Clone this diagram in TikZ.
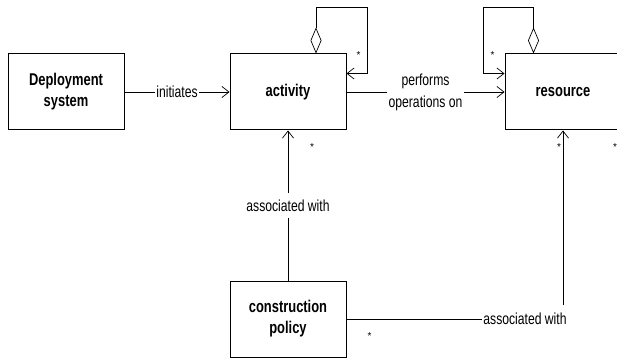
\documentclass[tikz,border=0pt]{standalone}
\usepackage{fontspec}
\setmainfont{Liberation Sans}
\newfontfamily\narrowfont[FakeStretch=0.76]{Liberation Sans}
\usetikzlibrary{arrows.meta, positioning}

\begin{document}
\begin{tikzpicture}[
    node distance=2cm,
    cls/.style={rectangle, minimum width=116pt, minimum height=76pt, text centered, align=center, draw=black, line width=1pt, font=\narrowfont\fontsize{17}{21}\selectfont\bfseries},
    lbl/.style={fill=white, inner xsep=1.5pt, inner ysep=6.5pt, align=center, font=\narrowfont\fontsize{16}{22}\selectfont},
    mult/.style={inner sep=0pt, font=\fontsize{10}{10}\selectfont},
    arrow/.style={-{Straight Barb[length=7pt, width=11pt]}, line width=0.7pt},
    aggr/.style={{Diamond[open, length=26pt, width=11pt]}-{Straight Barb[length=7pt, width=11pt]}, line width=0.7pt}
]
\useasboundingbox (0,0) rectangle (617pt,-358pt);

% Classes
\node[cls] (deploy) at (66pt,-92pt) {Deployment\\system};
\node[cls, right=105pt of deploy] (act) {activity};
\node[cls, right=158pt of act] (res) {resource};
\node[cls, below=150pt of act] (pol) {construction\\policy};

% Associations
\draw[arrow] (deploy) -- node[lbl] {initiates} (act);
\draw[arrow] (act) -- node[lbl] {performs\\operations on} (res);
\draw[arrow] (pol) -- node[lbl] {associated with} (act);
\draw[arrow] (pol.east) -| node[lbl, pos=0.5, xshift=-38pt, inner ysep=8pt] {associated with} (res.south);

% Aggregation loops
\draw[aggr] ([xshift=28pt]act.north) |- ([shift={(21pt,46pt)}]act.north east) |- ([yshift=-20pt]act.north east);
\draw[aggr] ([xshift=29pt]res.north west) |- ([shift={(-21pt,46pt)}]res.north west) |- ([yshift=-20pt]res.north west);

% Multiplicities
\node[mult] (m1) at ([shift={(12pt,-2pt)}]act.north east) {*};
\node[mult] (m2) at ([shift={(-12pt,-2pt)}]res.north west) {*};
\node[mult] (m3) at ([shift={(24pt,-17pt)}]act.south) {*};
\node[mult] (m4) at ([shift={(-4pt,-17pt)}]res.south) {*};
\node[mult] (m5) at ([shift={(52pt,-17pt)}]res.south) {*};
\node[mult] (m6) at ([shift={(23pt,-17pt)}]pol.east) {*};

\end{tikzpicture}
\end{document}
